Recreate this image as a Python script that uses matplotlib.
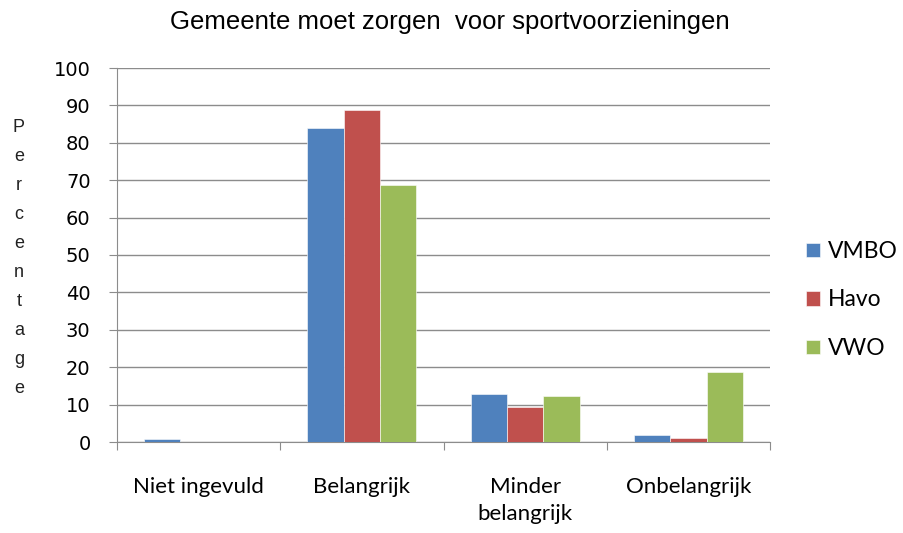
import matplotlib
matplotlib.use("Agg")
import matplotlib.pyplot as plt
import numpy as np

categories = ["Niet ingevuld", "Belangrijk", "Minder\nbelangrijk", "Onbelangrijk"]
series_names = ["VMBO", "Havo", "VWO"]
vmbo = [0.7, 84.0, 12.9, 1.8]
havo = [0.0, 88.8, 9.4, 1.1]
vwo = [0.0, 68.7, 12.2, 18.7]
colors = ["#4F81BD", "#C0504D", "#9BBB59"]
yticks = list(range(0, 101, 10))

fig = plt.figure(figsize=(9.04, 5.33), dpi=100)
ax = fig.add_axes([117/904, 1-442/533, (770-117)/904, (442-68)/533])

n = len(categories)
x = np.arange(n)
bw = 1/4.5
for i, (vals, name, c) in enumerate(zip([vmbo, havo, vwo], series_names, colors)):
    ax.bar(x + (i-1)*bw, vals, width=bw, color=c, label=name, zorder=3,
           edgecolor="white", linewidth=0.4)

ax.set_xlim(-0.5, n-0.5)
ax.set_ylim(0, 100)
ax.set_yticks(yticks)
ax.set_yticklabels([str(t) for t in yticks], fontsize=14, family="DejaVu Sans")
ax.yaxis.grid(True, color="#8c8c8c", linewidth=1.0, zorder=0)
ax.set_axisbelow(True)
for s in ["top", "right"]:
    ax.spines[s].set_visible(False)
ax.spines["left"].set_color("#8c8c8c")
ax.spines["bottom"].set_color("#8c8c8c")
ax.tick_params(axis="y", direction="out", length=6, color="#8c8c8c", pad=13)

ax.set_xticks(np.arange(-0.5, n, 1.0))
ax.set_xticklabels([])
ax.tick_params(axis="x", direction="out", length=6, color="#8c8c8c")
ax.set_xticks(x, minor=True)
ax.set_xticklabels(categories, minor=True, fontsize=16, family="Lato",
                   linespacing=1.45)
ax.tick_params(axis="x", which="minor", length=0, pad=25)

fig.text(450/904, 1-22/533, "Gemeente moet zorgen  voor sportvoorzieningen",
         fontsize=18.5, family="Liberation Sans", ha="center", va="center")

fig.text(19/904, 1-258/533, "\n".join("Percentage"), ha="center", va="center",
         fontsize=13, family="Liberation Sans", linespacing=1.93, color="#222222")

leg = fig.legend(loc="center left", bbox_to_anchor=(806/904, 1-300/533),
                 frameon=False, prop={"family": "Lato", "size": 16.5},
                 handlelength=0.6, handleheight=0.6, labelspacing=1.2,
                 handletextpad=0.35, borderpad=0, borderaxespad=0)

fig.savefig("out.png", dpi=100)
